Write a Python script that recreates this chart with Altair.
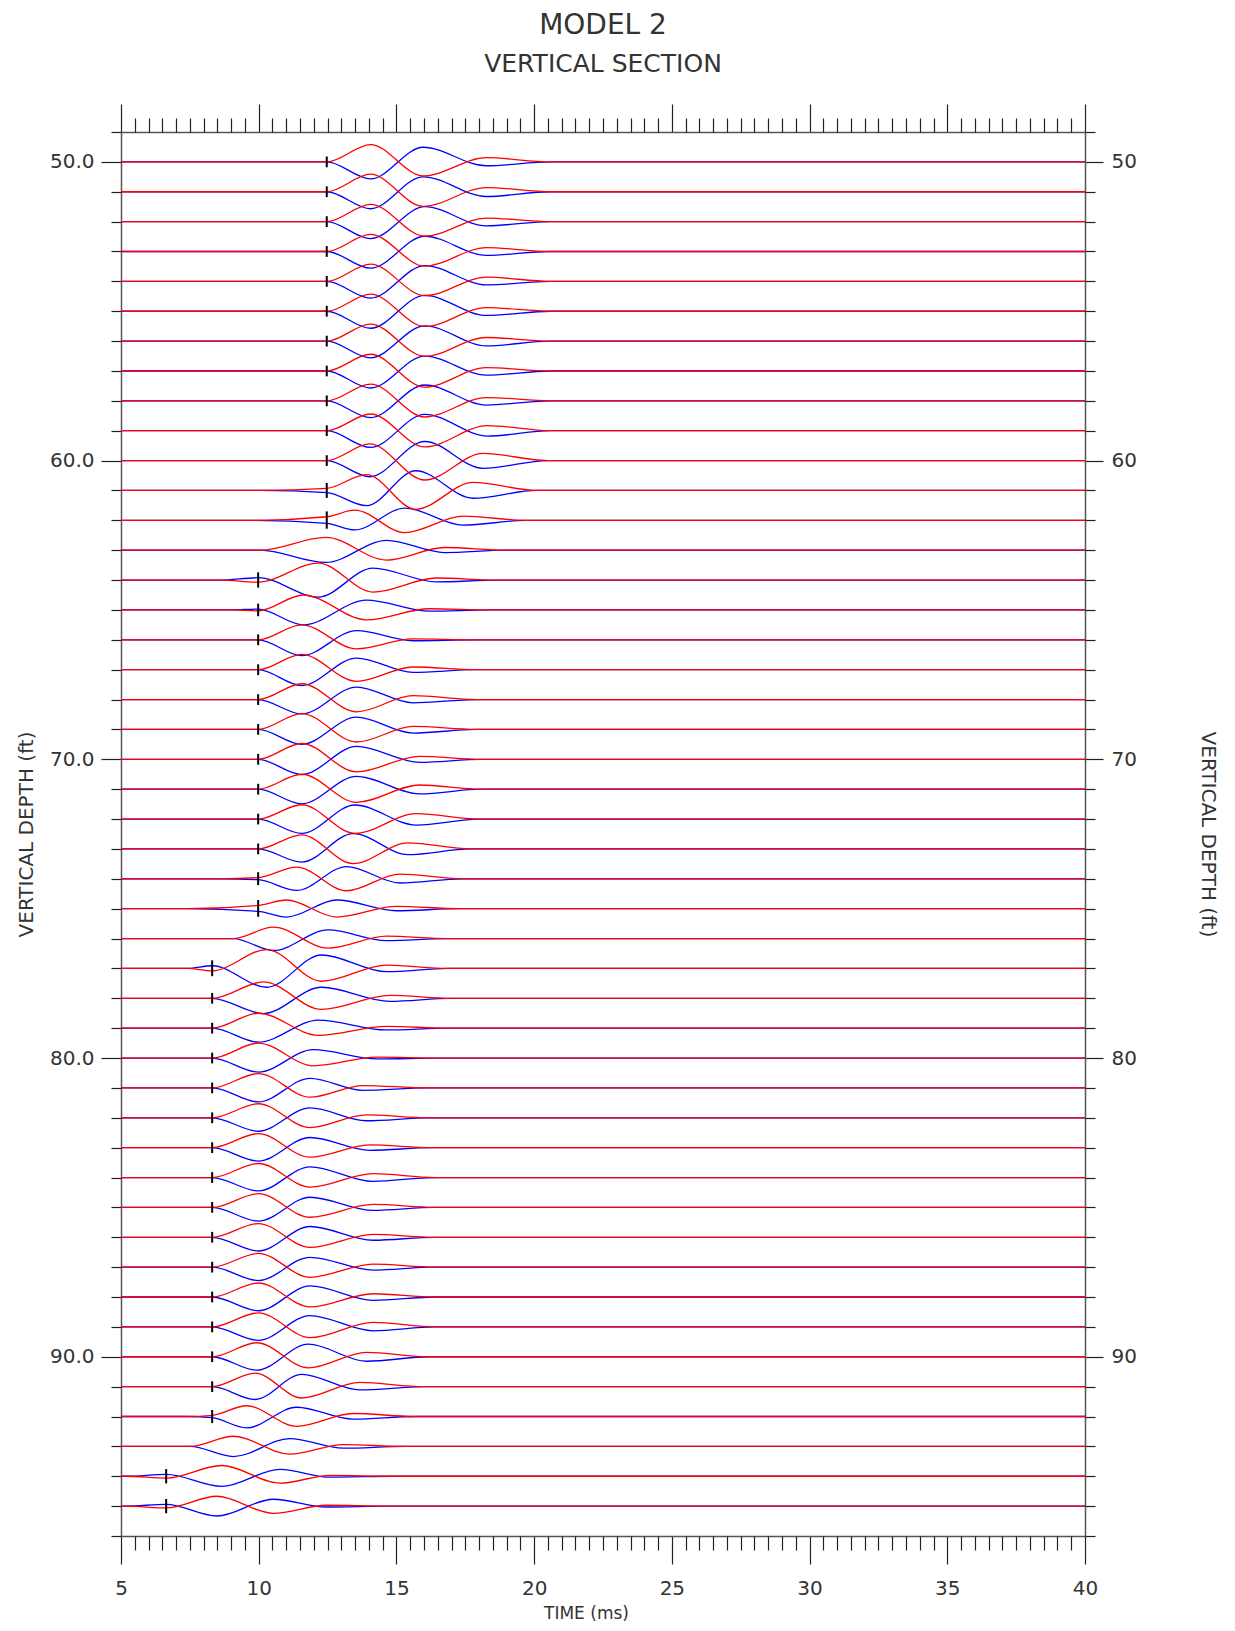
import altair as alt
import pandas as pd

# ---------------- data ----------------
T_MIN, T_MAX = 5.0, 40.0
DEPTHS = list(range(50, 96))

# onset marker time (ms) per trace, None = no marker
MARKER_T = [12.47, 12.47, 12.47, 12.47, 12.47, 12.47, 12.47, 12.47, 12.47, 12.47, 12.47, 12.47, 12.47,
            None,
            9.98, 9.98, 9.98, 9.98, 9.98, 9.98, 9.98, 9.98, 9.98, 9.98, 9.98, 9.98,
            None,
            8.31, 8.31, 8.31, 8.31, 8.31, 8.31, 8.31, 8.31, 8.31, 8.31, 8.31, 8.31, 8.31, 8.31, 8.31, 8.31,
            None,
            6.64, 6.64]

# time where the trace leaves its baseline
DEPART_T = [12.47, 12.47, 12.47, 12.47, 12.47, 12.47, 12.47, 12.47, 12.47, 12.47, 12.47, 10.05, 9.80,
            10.05,
            8.60, 9.00, 9.98, 9.98, 9.98, 9.98, 9.98, 9.98, 9.98, 9.98, 8.50, 7.40,
            9.08,
            7.40, 8.31, 8.31, 8.31, 8.31, 8.31, 8.31, 8.31, 8.31, 8.31, 8.31, 8.31, 8.31, 8.31, 8.31, 7.40,
            7.51,
            5.20, 5.20]

# small precursor value at the marker (ft, + = up)
PRE_RED = [0, 0, 0, 0, 0, 0, 0, 0, 0, 0, 0, 0.07, 0.12,
           0,
           -0.07, -0.03, 0, 0, 0, 0, 0, 0, 0, 0, 0.04, 0.11,
           0,
           -0.08, 0, 0, 0, 0, 0, 0, 0, 0, 0, 0, 0, 0, 0, 0, 0.04,
           0,
           -0.06, -0.06]
PRE_BLUE = [0, 0, 0, 0, 0, 0, 0, 0, 0, 0, 0, -0.07, -0.10,
            0,
            0.08, 0.03, 0, 0, 0, 0, 0, 0, 0, 0, -0.03, -0.09,
            0,
            0.09, 0, 0, 0, 0, 0, 0, 0, 0, 0, 0, 0, 0, 0, 0, -0.04,
            0,
            0.06, 0.06]

# times of the three main lobes (ms)
LOBE1_T = [14.06, 14.06, 14.06, 14.06, 14.06, 14.06, 14.06, 14.06, 14.06, 14.06, 14.03, 13.91, 13.49,
           12.44,
           12.16, 11.62, 11.56, 11.56, 11.56, 11.56, 11.56, 11.56, 11.56, 11.56, 11.38, 11.01,
           10.53,
           10.29, 10.17, 9.99, 9.99, 9.99, 9.99, 9.99, 9.99, 9.99, 9.99, 9.99, 9.99, 9.99, 9.93, 9.87, 9.56,
           9.08,
           8.66, 8.48]
LOBE2_T = [15.97, 15.97, 16.03, 16.03, 16.03, 16.03, 16.03, 16.03, 16.03, 16.03, 16.03, 15.70, 15.30,
           14.64,
           14.15, 13.91, 13.55, 13.55, 13.55, 13.55, 13.55, 13.55, 13.49, 13.43, 13.19, 12.83,
           12.52,
           12.28, 12.28, 12.16, 11.98, 11.86, 11.86, 11.86, 11.86, 11.86, 11.86, 11.86, 11.86, 11.86, 11.80, 11.56, 11.38,
           11.13,
           10.77, 10.53]
LOBE3_T = [18.26, 18.26, 18.26, 18.26, 18.26, 18.26, 18.26, 18.26, 18.26, 18.30, 18.14, 17.78, 17.42,
           16.75,
           16.45, 16.20, 15.60, 15.60, 15.60, 15.60, 15.84, 15.84, 15.72, 15.42, 15.12, 15.00,
           14.64,
           14.64, 14.76, 14.64, 14.30, 13.79, 13.91, 14.03, 14.15, 14.15, 14.15, 14.15, 14.15, 14.15, 13.91, 13.67, 13.43,
           13.07,
           12.60, 12.46]
END_T = [20.6, 20.6, 20.6, 20.6, 20.6, 20.6, 20.6, 20.6, 20.6, 20.6, 20.5, 20.1, 19.7,
         19.0,
         18.7, 18.4, 17.9, 17.9, 17.9, 17.9, 18.1, 18.1, 18.0, 17.7, 17.4, 17.3,
         16.9,
         16.9, 17.0, 16.9, 16.6, 16.1, 16.2, 16.3, 16.4, 16.4, 16.4, 16.4, 16.4, 16.4, 16.2, 16.0, 15.7,
         15.3,
         14.9, 14.7]

# lobe amplitudes (ft, + = up)
RED_1 = [0.58, 0.59, 0.58, 0.57, 0.58, 0.57, 0.57, 0.56, 0.56, 0.56, 0.56, 0.53, 0.34,
         0.43,
         0.57, 0.50, 0.50, 0.51, 0.53, 0.53, 0.53, 0.50, 0.48, 0.47, 0.39, 0.29,
         0.38,
         0.63, 0.55, 0.50, 0.50, 0.48, 0.47, 0.47, 0.47, 0.46, 0.46, 0.46, 0.47, 0.47, 0.47, 0.45, 0.36,
         0.34,
         0.36, 0.33]
RED_2 = [-0.47, -0.49, -0.49, -0.49, -0.48, -0.51, -0.51, -0.54, -0.54, -0.54, -0.65, -0.63, -0.41,
         -0.33,
         -0.40, -0.33, -0.30, -0.39, -0.41, -0.42, -0.42, -0.44, -0.48, -0.49, -0.40, -0.28,
         -0.32,
         -0.43, -0.37, -0.24, -0.26, -0.31, -0.33, -0.32, -0.32, -0.33, -0.34, -0.34, -0.33, -0.36, -0.37, -0.38, -0.33,
         -0.26,
         -0.23, -0.24]
RED_3 = [0.14, 0.14, 0.12, 0.13, 0.14, 0.12, 0.12, 0.11, 0.11, 0.17, 0.24, 0.27, 0.14,
         0.09,
         0.07, 0.04, 0.03, 0.09, 0.13, 0.10, 0.10, 0.14, 0.18, 0.20, 0.16, 0.08,
         0.08,
         0.11, 0.10, 0.06, 0.03, 0.08, 0.10, 0.09, 0.13, 0.10, 0.10, 0.10, 0.11, 0.15, 0.15, 0.14, 0.10,
         0.06,
         0.03, 0.03]
BLUE_1 = [-0.57, -0.57, -0.57, -0.56, -0.56, -0.57, -0.56, -0.57, -0.56, -0.56, -0.54, -0.51, -0.32,
          -0.41,
          -0.57, -0.50, -0.53, -0.53, -0.48, -0.50, -0.51, -0.49, -0.48, -0.44, -0.39, -0.28,
          -0.40,
          -0.63, -0.51, -0.47, -0.47, -0.47, -0.45, -0.45, -0.45, -0.46, -0.46, -0.45, -0.46, -0.45, -0.45, -0.43, -0.38,
          -0.34,
          -0.34, -0.33]
BLUE_2 = [0.49, 0.50, 0.50, 0.51, 0.53, 0.53, 0.51, 0.50, 0.53, 0.55, 0.64, 0.66, 0.41,
          0.33,
          0.40, 0.33, 0.31, 0.39, 0.42, 0.41, 0.43, 0.43, 0.47, 0.51, 0.41, 0.29,
          0.29,
          0.45, 0.37, 0.27, 0.28, 0.32, 0.33, 0.34, 0.36, 0.34, 0.36, 0.33, 0.37, 0.38, 0.42, 0.41, 0.31,
          0.26,
          0.23, 0.23]
BLUE_3 = [-0.13, -0.16, -0.14, -0.13, -0.12, -0.14, -0.16, -0.14, -0.14, -0.18, -0.26, -0.26, -0.16,
          -0.08,
          -0.06, -0.04, -0.03, -0.09, -0.11, -0.12, -0.10, -0.16, -0.20, -0.19, -0.14, -0.07,
          -0.07,
          -0.11, -0.10, -0.06, -0.03, -0.08, -0.10, -0.09, -0.13, -0.10, -0.10, -0.10, -0.11, -0.13, -0.15, -0.11, -0.09,
          -0.06,
          -0.03, -0.03]

# axis tick values
X_MAJOR = [5, 10, 15, 20, 25, 30, 35, 40]
X_MINOR = [v / 2 for v in range(10, 81) if v % 10 != 0]
Y_MAJOR = [50, 60, 70, 80, 90]
Y_MINOR = [v for v in range(49, 97) if v % 10 != 0]

TITLE = "MODEL 2"
SUBTITLE = "VERTICAL SECTION"
X_TITLE = "TIME (ms)"
Y_TITLE = "VERTICAL DEPTH (ft)"

# ---------------- build tables ----------------
MARK_HALF = 0.18
rows = []
for i, d in enumerate(DEPTHS):
    for comp, pre, a1, a2, a3 in (("blue", PRE_BLUE[i], BLUE_1[i], BLUE_2[i], BLUE_3[i]),
                                  ("red", PRE_RED[i], RED_1[i], RED_2[i], RED_3[i])):
        pts = [(T_MIN, 0.0), (DEPART_T[i], 0.0)]
        m = MARKER_T[i]
        if m is not None and DEPART_T[i] < m:
            pts.append((m, pre))
        pts += [(LOBE1_T[i], a1), (LOBE2_T[i], a2), (LOBE3_T[i], a3), (END_T[i], 0.0), (T_MAX, 0.0)]
        for k, (t, a) in enumerate(pts):
            rows.append({"depth": d, "comp": comp, "k": k, "t": t, "y": d - a})
df = pd.DataFrame(rows)
df_blue = df[df.comp == "blue"]
df_red = df[df.comp == "red"]

mrows = []
for i, d in enumerate(DEPTHS):
    m = MARKER_T[i]
    if m is None:
        continue
    hi = max(PRE_RED[i], PRE_BLUE[i])
    lo = min(PRE_RED[i], PRE_BLUE[i])
    mrows.append({"t": m, "y1": d - hi - MARK_HALF, "y2": d - lo + MARK_HALF})
dfm = pd.DataFrame(mrows)
dummy = pd.DataFrame({"t": [T_MIN], "y": [DEPTHS[0]]})

# ---------------- styling ----------------
FONT = "DejaVu Sans"
TXT = "#333333"
W, H = 964, 1404
xs = alt.Scale(domain=[T_MIN, T_MAX], nice=False, zero=False)
ys = alt.Scale(domain=[49, 96], reverse=True, nice=False, zero=False)

tick_style = dict(grid=False, tickColor="#222222", tickWidth=1.2, domainColor="#555555",
                  domainWidth=1.5, labelFont=FONT, labelColor=TXT, labelFontSize=20,
                  titleFont=FONT, titleColor=TXT, titleFontWeight="normal")

ax_bottom = alt.Axis(orient="bottom", values=X_MAJOR, tickSize=28, labelPadding=14, labelFlush=False,
                     format="d", title=X_TITLE, titleFontSize=17, titleX=465, titleY=77,
                     titleBaseline="middle", **tick_style)
ax_bottom_minor = alt.Axis(orient="bottom", values=X_MINOR, tickSize=14, labels=False, domain=False,
                           title=None, **tick_style)
ax_top = alt.Axis(orient="top", values=X_MAJOR, tickSize=28, labels=False, title=None, **tick_style)
ax_top_minor = alt.Axis(orient="top", values=X_MINOR, tickSize=14, labels=False, domain=False,
                        title=None, **tick_style)
ax_left = alt.Axis(orient="left", values=Y_MAJOR, format=".1f", tickSize=20, labelPadding=7,
                   title=Y_TITLE, titleFontSize=20, titleAngle=270, titleX=-95, titleY=H / 2,
                   titleBaseline="middle", **tick_style)
ax_left_minor = alt.Axis(orient="left", values=Y_MINOR, tickSize=10, labels=False, domain=False,
                         title=None, **tick_style)
ax_right = alt.Axis(orient="right", values=Y_MAJOR, format="d", tickSize=18, labelPadding=8,
                    title=Y_TITLE, titleFontSize=20, titleAngle=90, titleX=122, titleY=H / 2,
                    titleBaseline="middle", **tick_style)
ax_right_minor = alt.Axis(orient="right", values=Y_MINOR, tickSize=10, labels=False, domain=False,
                          title=None, **tick_style)

blue = alt.Chart(df_blue).mark_line(interpolate="monotone", color="#0000ff", strokeWidth=1.3).encode(
    x=alt.X("t:Q", scale=xs, axis=ax_bottom),
    y=alt.Y("y:Q", scale=ys, axis=ax_left),
    detail="depth:N", order="k:Q")
red = alt.Chart(df_red).mark_line(interpolate="monotone", color="#ff0000", strokeWidth=1.3).encode(
    x=alt.X("t:Q", scale=xs, axis=None),
    y=alt.Y("y:Q", scale=ys, axis=None),
    detail="depth:N", order="k:Q")
markers = alt.Chart(dfm).mark_rule(color="#000000", strokeWidth=2).encode(
    x=alt.X("t:Q", scale=xs, axis=None),
    y=alt.Y("y1:Q", scale=ys, axis=None),
    y2="y2:Q")
axes1 = alt.Chart(dummy).mark_point(opacity=0, size=1).encode(
    x=alt.X("t:Q", scale=xs, axis=ax_bottom_minor),
    y=alt.Y("y:Q", scale=ys, axis=ax_left_minor))
axes2 = alt.Chart(dummy).mark_point(opacity=0, size=1).encode(
    x=alt.X("t:Q", scale=xs, axis=ax_top),
    y=alt.Y("y:Q", scale=ys, axis=ax_right))
axes3 = alt.Chart(dummy).mark_point(opacity=0, size=1).encode(
    x=alt.X("t:Q", scale=xs, axis=ax_top_minor),
    y=alt.Y("y:Q", scale=ys, axis=ax_right_minor))

chart = alt.layer(blue, red, markers, axes1, axes2, axes3).resolve_axis(
    x="independent", y="independent"
).properties(
    width=W, height=H,
    autosize=alt.AutoSizeParams(type="none"),
    padding={"left": 113, "top": 124, "right": 142, "bottom": 87},
    title=alt.TitleParams(TITLE, subtitle=SUBTITLE, font=FONT, subtitleFont=FONT, fontSize=28,
                          subtitleFontSize=25, fontWeight="normal", color=TXT, subtitleColor=TXT,
                          anchor="middle", frame="group", offset=26, subtitlePadding=12),
    background="white",
).configure_view(stroke=None)

chart.save("out.html", embed_options={"renderer": "svg", "actions": False})
